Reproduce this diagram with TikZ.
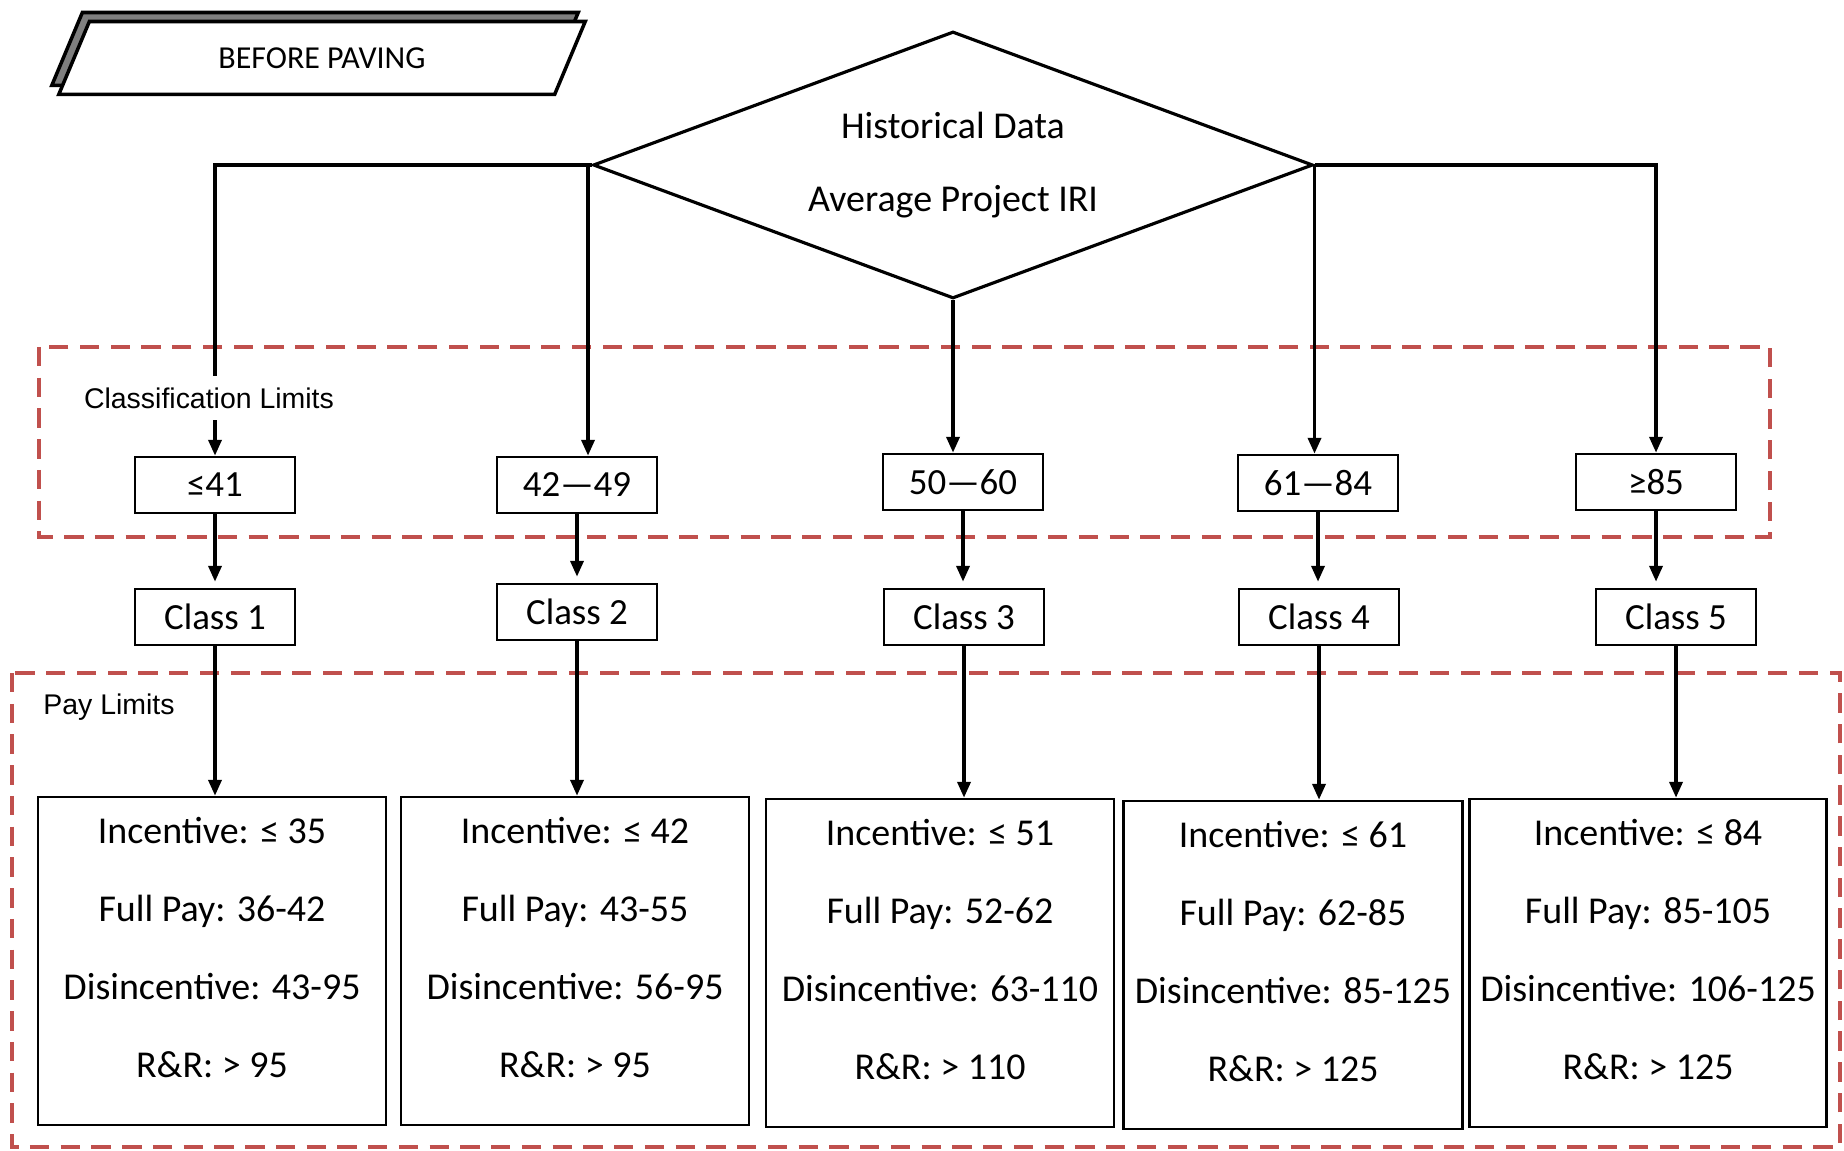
\documentclass[tikz,border=0pt]{standalone}
\usepackage{fontspec}
\setmainfont{Carlito}
\newfontfamily\labelfont{Liberation Sans}
\usetikzlibrary{shapes.geometric,arrows.meta,shadows}
\definecolor{limitred}{HTML}{C0504D}
\definecolor{tagshadow}{HTML}{7F7F7F}

\begin{document}
\begin{tikzpicture}[x=0.02cm, y=-0.02cm,
		flow/.style={draw, line width=1.8pt, -{Triangle[length=9pt, width=7.5pt]}},
		tag/.style={trapezium, trapezium left angle=57, trapezium right angle=123, trapezium stretches=true,
			minimum width=10.54cm, minimum height=1.46cm, inner sep=0pt, draw, fill=white, line width=2pt,
			font=\fontsize{18.2}{22}\selectfont,
			general shadow={shadow xshift=-0.14cm, shadow yshift=0.18cm, fill=tagshadow, draw=black, line width=2pt}},
		limbox/.style={draw, fill=white, line width=1.6pt, minimum width=3.2cm, minimum height=1.12cm, inner sep=0pt,
			font=\fontsize{21}{25}\selectfont},
		paybox/.style={draw, fill=white, line width=1.6pt, minimum width=6.96cm, minimum height=6.56cm, inner sep=0pt,
			align=center, font=\fontsize{21.6}{44.4}\selectfont,
			execute at end node={\rule[-0.56cm]{0pt}{0.56cm}}},
		region/.style={draw=limitred, line width=2.3pt, dash pattern=on 11pt off 6.5pt},
		regionlabel/.style={fill=white, inner sep=1pt, font=\fontsize{16.2}{19}\selectfont\labelfont}]

		\useasboundingbox (0,0) rectangle (1844,1151);

		\draw[region] (39,347) rectangle (1770,537);
		\draw[region] (12,673) rectangle (1840,1147);

		\node[tag] (paving) at (322,58) {BEFORE PAVING};

		\node[diamond, draw, line width=1.8pt, aspect=2.7, minimum width=14.4cm, minimum height=5.34cm, inner sep=0pt,
			align=center, font=\fontsize{21.6}{41.5}\selectfont] (history) at (953,165) {Historical Data\\Average Project IRI};

		\node[limbox] (lim1) at (215,485) {≤41};
		\node[limbox] (lim2) at (577,485) {42—49};
		\node[limbox] (lim3) at (963,482) {50—60};
		\node[limbox] (lim4) at (1318,483) {61—84};
		\node[limbox] (lim5) at (1656,482) {≥85};

		\node[limbox] (cls1) at (215,617) {Class 1};
		\node[limbox] (cls2) at (577,612) {Class 2};
		\node[limbox] (cls3) at (964,617) {Class 3};
		\node[limbox] (cls4) at (1319,617) {Class 4};
		\node[limbox] (cls5) at (1676,617) {Class 5};

		\node[paybox] (pay1) at (212,961) {Incentive: ≤ 35\\Full Pay: 36-42\\Disincentive: 43-95\\R\&R: > 95};
		\node[paybox] (pay2) at (575,961) {Incentive: ≤ 42\\Full Pay: 43-55\\Disincentive: 56-95\\R\&R: > 95};
		\node[paybox] (pay3) at (940,963) {Incentive: ≤ 51\\Full Pay: 52-62\\Disincentive: 63-110\\R\&R: > 110};
		\node[paybox, minimum width=6.78cm] (pay4) at (1293,965) {Incentive: ≤ 61\\Full Pay: 62-85\\Disincentive: 85-125\\R\&R: > 125};
		\node[paybox, minimum width=7.14cm] (pay5) at (1648,963) {Incentive: ≤ 84\\Full Pay: 85-105\\Disincentive: 106-125\\R\&R: > 125};

		\coordinate (split2) at (588,165);

		\draw[flow] (history.west) -| (lim1.north);
		\draw[flow] (split2) -- (split2 |- lim2.north);
		\draw[flow] (history.south) -- (history.south |- lim3.north);
		\draw[flow] (history.east) -- (history.east |- lim4.north);
		\draw[flow] (history.east) -| (lim5.north);

		\draw[flow, shorten >=0.12cm] (lim1.south) -- (lim1.south |- cls1.north);
		\draw[flow, shorten >=0.12cm] (lim2.south) -- (lim2.south |- cls2.north);
		\draw[flow, shorten >=0.12cm] (lim3.south) -- (lim3.south |- cls3.north);
		\draw[flow, shorten >=0.12cm] (lim4.south) -- (lim4.south |- cls4.north);
		\draw[flow, shorten >=0.12cm] (lim5.south) -- (lim5.south |- cls5.north);

		\draw[flow] (cls1.south) -- (cls1.south |- pay1.north);
		\draw[flow] (cls2.south) -- (cls2.south |- pay2.north);
		\draw[flow] (cls3.south) -- (cls3.south |- pay3.north);
		\draw[flow] (cls4.south) -- (cls4.south |- pay4.north);
		\draw[flow] (cls5.south) -- (cls5.south |- pay5.north);

		\node[regionlabel, minimum height=0.88cm] (classlabel) at (209,398) {Classification Limits};
		\node[regionlabel] (paylabel) at (109,707) {Pay Limits};

\end{tikzpicture}
\end{document}
